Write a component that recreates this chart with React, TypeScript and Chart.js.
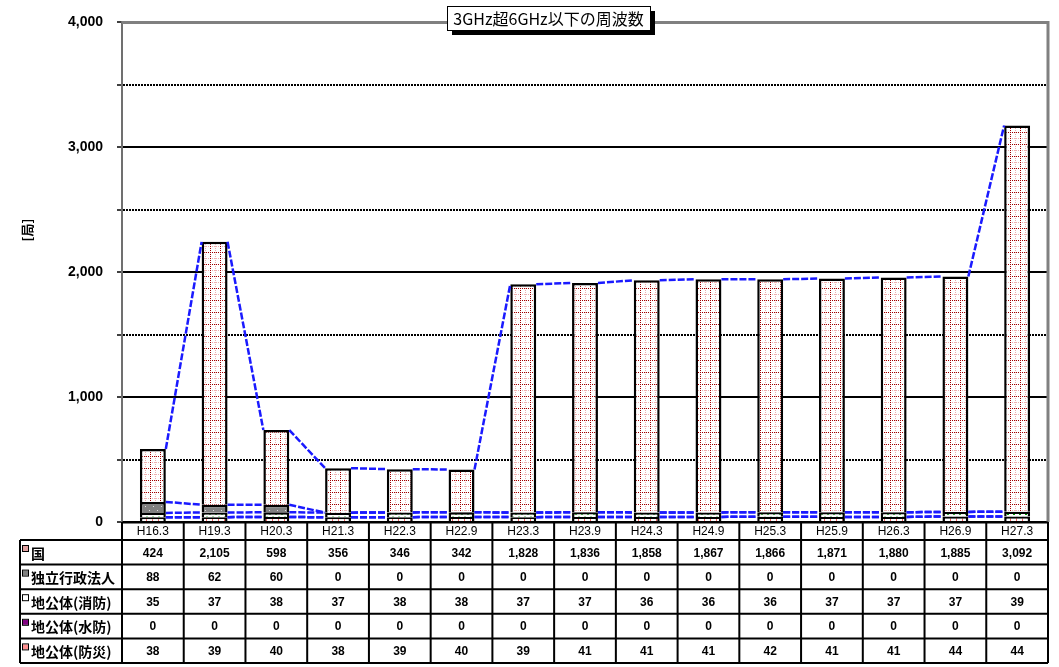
import React, { useEffect, useRef } from 'react';
import { Chart, registerables } from 'chart.js';

Chart.register(...registerables);

const categories = ['H16.3', 'H19.3', 'H20.3', 'H21.3', 'H22.3', 'H22.9', 'H23.3', 'H23.9', 'H24.3', 'H24.9', 'H25.3', 'H25.9', 'H26.3', 'H26.9', 'H27.3'];
const kuni = [424, 2105, 598, 356, 346, 342, 1828, 1836, 1858, 1867, 1866, 1871, 1880, 1885, 3092];
const dokuritsu = [88, 62, 60, 0, 0, 0, 0, 0, 0, 0, 0, 0, 0, 0, 0];
const shobo = [35, 37, 38, 37, 38, 38, 37, 37, 36, 36, 36, 37, 37, 37, 39];
const suibo = [0, 0, 0, 0, 0, 0, 0, 0, 0, 0, 0, 0, 0, 0, 0];
const bosai = [38, 39, 40, 38, 39, 40, 39, 41, 41, 41, 42, 41, 41, 44, 44];
const rowLabels = ['国', '独立行政法人', '地公体(消防)', '地公体(水防)', '地公体(防災)'];
const yMin = 0;
const yMax = 4000;
const yStep = 500;
const chartTitle = '3GHz超6GHz以下の周波数';
const yTitle = '[局]';

const NUM_FONT = '"Liberation Sans", Arial, sans-serif';
const CJK_FONT = '"Noto Sans CJK JP", "Noto Sans", sans-serif';

function makePattern(w: number, h: number, draw: (g: CanvasRenderingContext2D) => void): CanvasPattern | string {
  const c = document.createElement('canvas');
  c.width = w;
  c.height = h;
  const g = c.getContext('2d');
  if (!g) return '#fff';
  draw(g);
  return g.createPattern(c, 'repeat') || '#fff';
}

export default function App() {
  const ref = useRef<HTMLCanvasElement | null>(null);

  useEffect(() => {
    document.body.style.margin = '0';
    const canvas = ref.current;
    if (!canvas) return;

    const kuniPat = makePattern(10, 12, (g) => {
      g.fillStyle = '#ffffff';
      g.fillRect(0, 0, 10, 12);
      g.fillStyle = '#eeb0b0';
      for (let x = 0; x < 10; x += 2) g.fillRect(x, 6, 1, 1);
      for (let y = 0; y < 12; y += 2) g.fillRect(5, y, 1, 1);
      g.fillStyle = '#a00000';
      for (let x = 0; x < 10; x += 2) g.fillRect(x, 0, 1, 1);
      for (let y = 0; y < 12; y += 2) g.fillRect(0, y, 1, 1);
    });
    const dokuPat = makePattern(8, 8, (g) => {
      g.fillStyle = '#808080';
      g.fillRect(0, 0, 8, 8);
      g.fillStyle = '#e0e0e0';
      g.fillRect(1, 2, 1, 1);
      g.fillRect(5, 6, 1, 1);
    });
    const shoboPat = makePattern(12, 4, (g) => {
      g.fillStyle = '#ffffff';
      g.fillRect(0, 0, 12, 4);
      g.strokeStyle = '#00a000';
      g.lineWidth = 1;
      g.beginPath();
      g.moveTo(0, 3);
      g.quadraticCurveTo(3, -1, 6, 3);
      g.quadraticCurveTo(9, -1, 12, 3);
      g.stroke();
    });
    const bosaiPat = makePattern(6, 4, (g) => {
      g.fillStyle = '#ffffff';
      g.fillRect(0, 0, 6, 4);
      g.fillStyle = '#f06060';
      g.fillRect(2, 0, 1, 4);
    });

    const tableRows = [kuni, dokuritsu, shobo, suibo, bosai];
    const legendColors = ['#e0a0a0', '#808080', '#ffffff', '#800080', '#ff9090'];

    const customPlugin = {
      id: 'custom',
      afterDatasetsDraw(chart: any) {
        const ctx = chart.ctx as CanvasRenderingContext2D;
        ctx.save();
        ctx.strokeStyle = '#1a1aff';
        ctx.lineWidth = 2.5;
        ctx.setLineDash([7, 2]);
        for (let d = 0; d < chart.data.datasets.length; d++) {
          const meta = chart.getDatasetMeta(d);
          for (let i = 0; i < meta.data.length - 1; i++) {
            const a = meta.data[i].getProps(['x', 'y', 'width'], true);
            const b = meta.data[i + 1].getProps(['x', 'y', 'width'], true);
            ctx.beginPath();
            ctx.moveTo(a.x + a.width / 2, a.y);
            ctx.lineTo(b.x - b.width / 2, b.y);
            ctx.stroke();
          }
        }
        ctx.restore();
      },
      afterDraw(chart: any) {
        const ctx = chart.ctx as CanvasRenderingContext2D;
        const area = chart.chartArea;
        const xs = chart.scales.x;
        ctx.save();

        // frame
        ctx.strokeStyle = '#808080';
        ctx.lineWidth = 3;
        ctx.beginPath();
        ctx.moveTo(area.left, area.top);
        ctx.lineTo(area.right, area.top);
        ctx.lineTo(area.right, area.bottom);
        ctx.stroke();

        // table
        const colW = xs.getPixelForValue(1) - xs.getPixelForValue(0);
        const top = area.bottom;
        const headerH = 18;
        const rowH = 24.6;
        const labelLeft = 20;
        const bottom = top + headerH + rowH * tableRows.length;
        ctx.strokeStyle = '#000';
        ctx.lineWidth = 2;
        ctx.beginPath();
        ctx.moveTo(area.left, top + 0.5);
        ctx.lineTo(area.right, top + 0.5);
        for (let r = 0; r <= tableRows.length; r++) {
          const y = top + headerH + rowH * r;
          ctx.moveTo(labelLeft, y);
          ctx.lineTo(area.right, y);
        }
        ctx.moveTo(labelLeft, top + headerH);
        ctx.lineTo(labelLeft, bottom);
        for (let k = 0; k <= categories.length; k++) {
          const x = xs.getPixelForValue(0) - colW / 2 + colW * k;
          ctx.moveTo(x, top);
          ctx.lineTo(x, bottom);
        }
        ctx.stroke();

        ctx.fillStyle = '#000';
        ctx.textAlign = 'center';
        ctx.textBaseline = 'middle';
        ctx.font = `12px ${NUM_FONT}`;
        categories.forEach((c, i) => {
          ctx.fillText(c, xs.getPixelForValue(i), top + headerH / 2 + 1);
        });
        ctx.font = `bold 12px ${NUM_FONT}`;
        tableRows.forEach((row, r) => {
          const yc = top + headerH + rowH * r + rowH / 2;
          row.forEach((v, i) => {
            ctx.fillText(v.toLocaleString('en-US'), xs.getPixelForValue(i), yc + 1);
          });
        });
        ctx.textAlign = 'left';
        ctx.font = `bold 14px ${CJK_FONT}`;
        rowLabels.forEach((lab, r) => {
          const yTop = top + headerH + rowH * r;
          const yc = yTop + rowH / 2;
          ctx.fillStyle = legendColors[r];
          ctx.fillRect(23, yTop + 6, 5, 5);
          ctx.strokeStyle = '#000';
          ctx.lineWidth = 1;
          ctx.strokeRect(22.5, yTop + 5.5, 6, 6);
          ctx.fillStyle = '#000';
          ctx.fillText(lab, 31, yc + 1);
        });

        // y title
        ctx.save();
        ctx.translate(27, 230);
        ctx.rotate(-Math.PI / 2);
        ctx.textAlign = 'center';
        ctx.textBaseline = 'middle';
        ctx.font = `bold 13px ${CJK_FONT}`;
        ctx.fillText(yTitle, 0, 0);
        ctx.restore();

        // chart title box
        const bx = 447, by = 6, bw = 203, bh = 24;
        ctx.fillStyle = '#000';
        ctx.fillRect(bx + 5, by + 5, bw, bh);
        ctx.fillStyle = '#fff';
        ctx.fillRect(bx, by, bw, bh);
        ctx.strokeStyle = '#000';
        ctx.lineWidth = 1;
        ctx.strokeRect(bx + 0.5, by + 0.5, bw, bh);
        ctx.fillStyle = '#000';
        ctx.textAlign = 'center';
        ctx.textBaseline = 'middle';
        ctx.font = `16px ${CJK_FONT}`;
        ctx.fillText(chartTitle, bx + bw / 2, by + bh / 2 + 1);

        ctx.restore();
      },
    };

    const common = { borderColor: '#000', borderWidth: 2.5, barPercentage: 0.42, categoryPercentage: 1 };

    const chart = new Chart(canvas, {
      type: 'bar',
      data: {
        labels: categories,
        datasets: [
          { label: rowLabels[4], data: bosai, backgroundColor: bosaiPat as any, ...common },
          { label: rowLabels[3], data: suibo, backgroundColor: '#800080', ...common },
          { label: rowLabels[2], data: shobo, backgroundColor: shoboPat as any, ...common },
          { label: rowLabels[1], data: dokuritsu, backgroundColor: dokuPat as any, ...common },
          { label: rowLabels[0], data: kuni, backgroundColor: kuniPat as any, ...common },
        ],
      },
      options: {
        responsive: false,
        animation: false,
        devicePixelRatio: 1,
        layout: { padding: { top: 16, right: 11, bottom: 145, left: 0 } },
        plugins: { legend: { display: false }, tooltip: { enabled: false }, title: { display: false } },
        scales: {
          x: { stacked: true, display: false },
          y: {
            stacked: true,
            min: yMin,
            max: yMax,
            afterFit: (s: any) => { s.width = 122; },
            ticks: {
              stepSize: yStep,
              autoSkip: false,
              padding: 14,
              color: '#000',
              font: { family: NUM_FONT, size: 14, weight: 'bold' },
              callback: (v: any) => (Number(v) % 1000 === 0 ? Number(v).toLocaleString('en-US') : ''),
            },
            grid: {
              color: (c: any) => (c.tick && c.tick.value === yMax ? 'rgba(0,0,0,0)' : '#000'),
              lineWidth: 2,
              tickLength: 5,
              tickColor: '#000',
              tickWidth: 1.5,
            },
            border: {
              display: true,
              color: '#707070',
              width: 2,
              dash: (c: any) => (c.tick && c.tick.value % 1000 !== 0 ? [2, 1] : []),
            },
          },
        },
      },
      plugins: [customPlugin],
    } as any);

    return () => chart.destroy();
  }, []);

  return (
    <div style={{ width: 1059, height: 667, background: '#fff' }}>
      <canvas ref={ref} width={1059} height={667} style={{ display: 'block' }} />
    </div>
  );
}
